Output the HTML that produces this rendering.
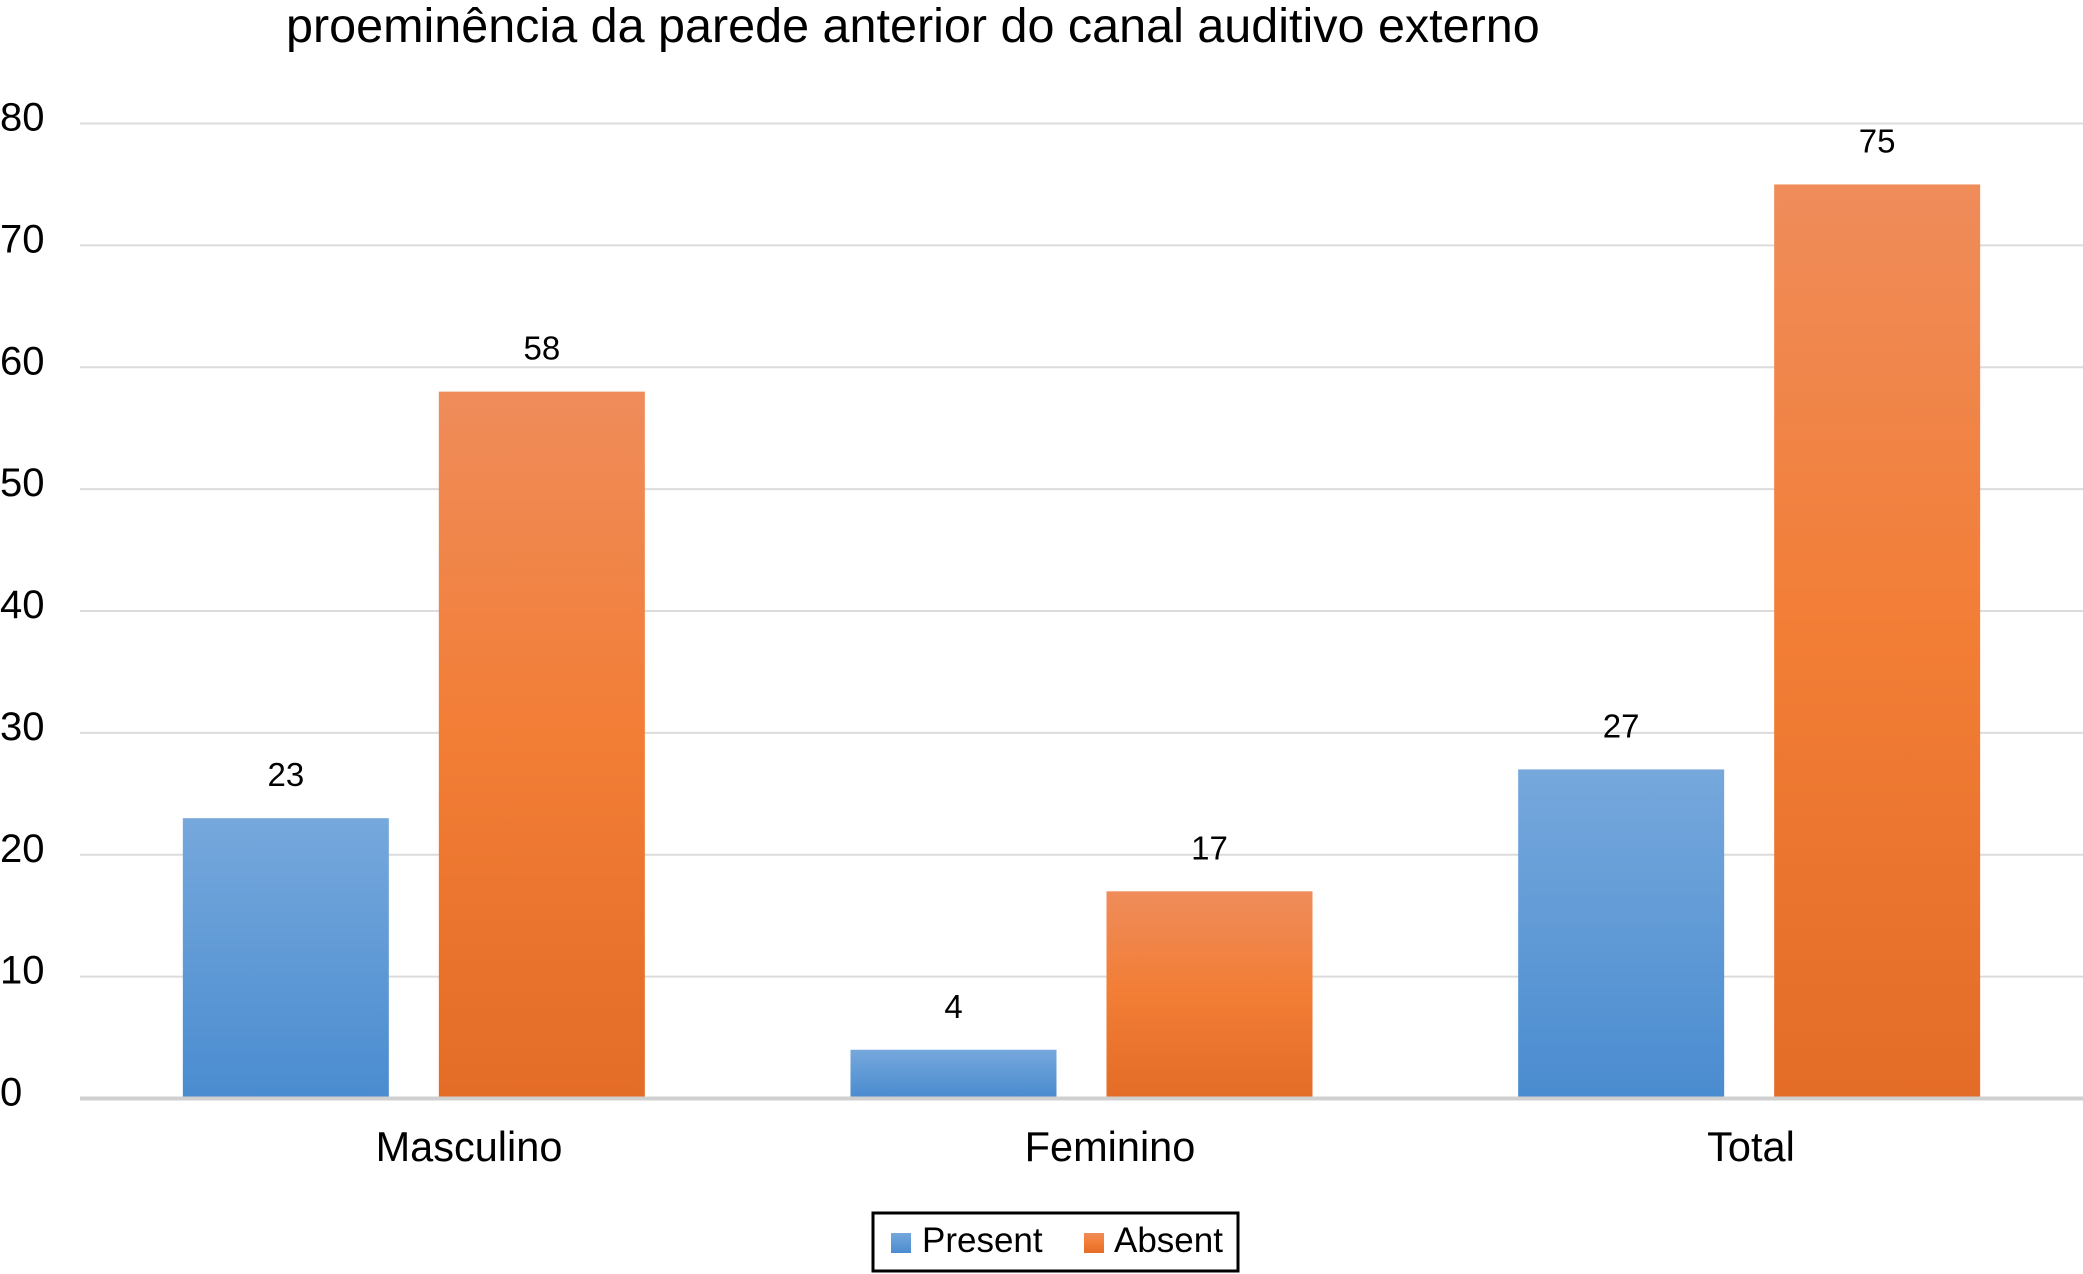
<!DOCTYPE html>
<html><head><meta charset="utf-8"><style>
body{margin:0;background:#fff;}
svg{display:block;font-family:"Liberation Sans",Arial,sans-serif;}
</style></head><body>
<svg id="chart" width="2083" height="1274" viewBox="0 0 2083 1274">
<defs>
<linearGradient id="gb" x1="0" y1="0" x2="0" y2="1"><stop offset="0" stop-color="#76a8dc"/><stop offset="1" stop-color="#4a8cd0"/></linearGradient>
<linearGradient id="go" x1="0" y1="0" x2="0" y2="1"><stop offset="0" stop-color="#ef8c5a"/><stop offset="0.5" stop-color="#f27d35"/><stop offset="1" stop-color="#e36c27"/></linearGradient>
</defs>
<text x="286" y="42" font-size="48.5" fill="#000">proeminência da parede anterior do canal auditivo externo</text>
<g id="grid"></g><g id="bars"></g><g id="labels"></g>
<g>
<rect x="873" y="1213" width="365" height="58" fill="#fff" stroke="#000" stroke-width="3"/>
<rect x="891" y="1233" width="20" height="20" fill="url(#gb)"/>
<text x="922" y="1252" font-size="35">Present</text>
<rect x="1084" y="1233" width="20" height="20" fill="url(#go)"/>
<text x="1114" y="1252" font-size="35">Absent</text>
</g>
</svg>
<script>
const categories=["Masculino","Feminino","Total"];
const presentValues=[23,4,27];
const absentValues=[58,17,75];
const yTicks=[0,10,20,30,40,50,60,70,80];
const NS="http://www.w3.org/2000/svg";
const x0=80,x1=2083,yTop=123.5,yBot=1098.5,yMax=80;
const y=v=>yBot-(yBot-yTop)*v/yMax;
const gw=(x1-x0)/categories.length;
const bw=206,gap=50;
function mk(t,a,p){const e=document.createElementNS(NS,t);for(const k in a)e.setAttribute(k,a[k]);p.appendChild(e);return e;}
const grid=document.getElementById('grid'),bars=document.getElementById('bars'),labels=document.getElementById('labels');
yTicks.forEach(v=>{
 const l=mk('line',{x1:x0,x2:x1,y1:y(v),y2:y(v),stroke:v===0?'#d0d0d0':'#dcdcdc','stroke-width':v===0?4:2},grid);
 
 
 const t=mk('text',{x:0,y:y(v)+7,'font-size':40},grid);t.textContent=v;
 
 
});
categories.forEach((c,i)=>{
 const cx=x0+gw*(i+0.5);
 [[presentValues[i],'url(#gb)',cx-gap/2-bw,'present'],[absentValues[i],'url(#go)',cx+gap/2,'absent']].forEach(([v,f,bx,s])=>{
  const r=mk('rect',{x:bx,y:y(v),width:bw,height:y(0)-y(v)-2,fill:f},bars);
  
  
  const t=mk('text',{x:bx+bw/2,y:y(v)-32,'font-size':33,'text-anchor':'middle'},labels);t.textContent=v;
  
  
 });
 const t=mk('text',{x:469+641*i,y:1161,'font-size':41.5,'text-anchor':'middle'},labels);t.textContent=c;
 
 
});
</script>
</body></html>
